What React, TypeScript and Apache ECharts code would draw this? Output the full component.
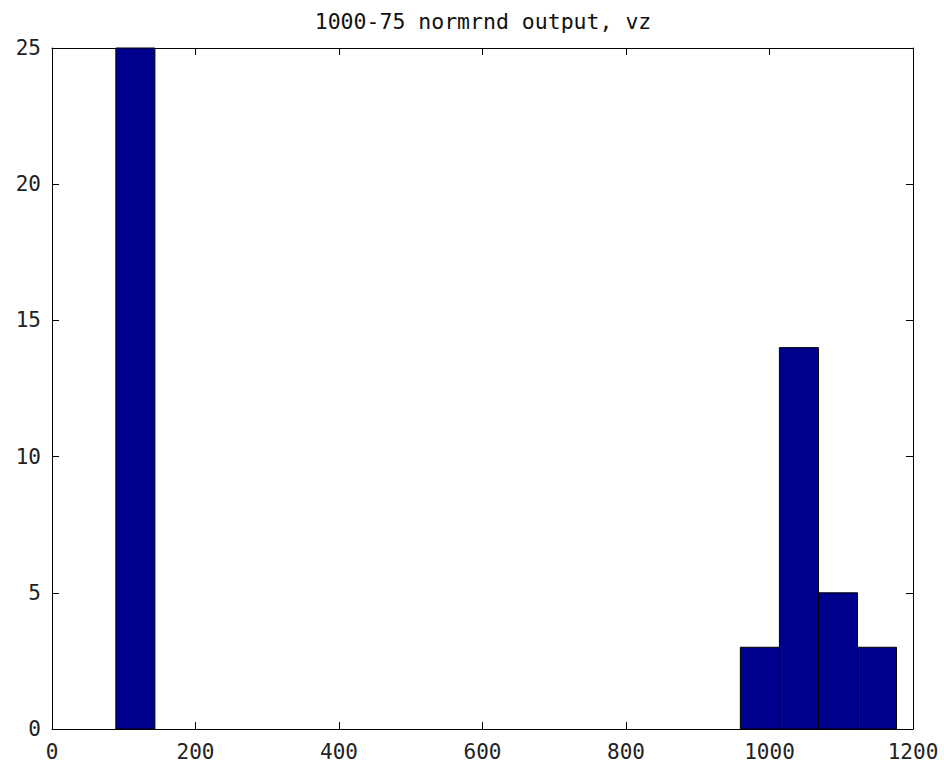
import React, { useEffect, useRef } from "react";
import * as echarts from "echarts";

const titleText = "1000-75 normrnd output, vz";
const binLefts = [89.0, 959.4, 1013.8, 1068.2, 1122.6];
const binRights = [143.4, 1013.8, 1068.2, 1122.6, 1177.0];
const counts = [75, 3, 14, 5, 3];
const xTicks = [0, 200, 400, 600, 800, 1000, 1200];
const yTicks = [0, 5, 10, 15, 20, 25];

const FONT = "'DejaVu Sans Mono', monospace";

export default function App() {
  const ref = useRef<HTMLDivElement>(null);
  useEffect(() => {
    if (!ref.current) return;
    const chart = echarts.init(ref.current, null, { renderer: "svg" });
    const data = counts.map((c, i) => [binLefts[i], binRights[i], c]);
    const xMin = xTicks[0];
    const xMax = xTicks[xTicks.length - 1];
    const yMin = yTicks[0];
    const yMax = yTicks[yTicks.length - 1];
    const axisCommon = {
      axisLine: { show: true, onZero: false, lineStyle: { color: "#000", width: 1 } },
      axisTick: { show: true, inside: true, length: 7, lineStyle: { color: "#000", width: 1 } },
      splitLine: { show: false },
    };
    const fmt = (v: number) => String(v);
    chart.setOption({
      animation: false,
      backgroundColor: "#fff",
      title: {
        text: titleText,
        left: 478,
        top: 5,
        textAlign: "center",
        textStyle: { fontFamily: FONT, fontSize: 21.5, fontWeight: "normal", color: "#111" },
      },
      grid: { left: 52, top: 48, right: 31, bottom: 41, show: false },
      xAxis: [
        {
          type: "value",
          min: xMin,
          max: xMax,
          interval: 200,
          position: "bottom",
          ...axisCommon,
          axisLabel: { show: true, margin: 12, color: "#222", fontFamily: FONT, fontSize: 21, formatter: fmt },
        },
        {
          type: "value",
          min: xMin,
          max: xMax,
          interval: 200,
          position: "top",
          ...axisCommon,
          axisLabel: { show: false },
        },
      ],
      yAxis: [
        {
          type: "value",
          min: yMin,
          max: yMax,
          interval: 5,
          position: "left",
          ...axisCommon,
          axisLabel: { show: true, margin: 11, color: "#222", fontFamily: FONT, fontSize: 21, formatter: fmt },
        },
        {
          type: "value",
          min: yMin,
          max: yMax,
          interval: 5,
          position: "right",
          ...axisCommon,
          axisLabel: { show: false },
        },
      ],
      series: [
        {
          type: "custom",
          xAxisIndex: 0,
          yAxisIndex: 0,
          data,
          renderItem: (params: any, api: any) => {
            const p0 = api.coord([api.value(0), 0]);
            const p1 = api.coord([api.value(1), api.value(2)]);
            const shape = echarts.graphic.clipRectByRect(
              { x: p0[0], y: p1[1], width: p1[0] - p0[0], height: p0[1] - p1[1] },
              {
                x: params.coordSys.x,
                y: params.coordSys.y,
                width: params.coordSys.width,
                height: params.coordSys.height,
              }
            );
            if (!shape) return null;
            return {
              type: "rect",
              shape,
              style: { fill: "#00008F", stroke: "#000", lineWidth: 1 },
            };
          },
        },
      ],
    });
    return () => chart.dispose();
  }, []);
  return (
    <div
      ref={ref}
      style={{ position: "fixed", left: 0, top: 0, width: 944, height: 770 }}
    />
  );
}
